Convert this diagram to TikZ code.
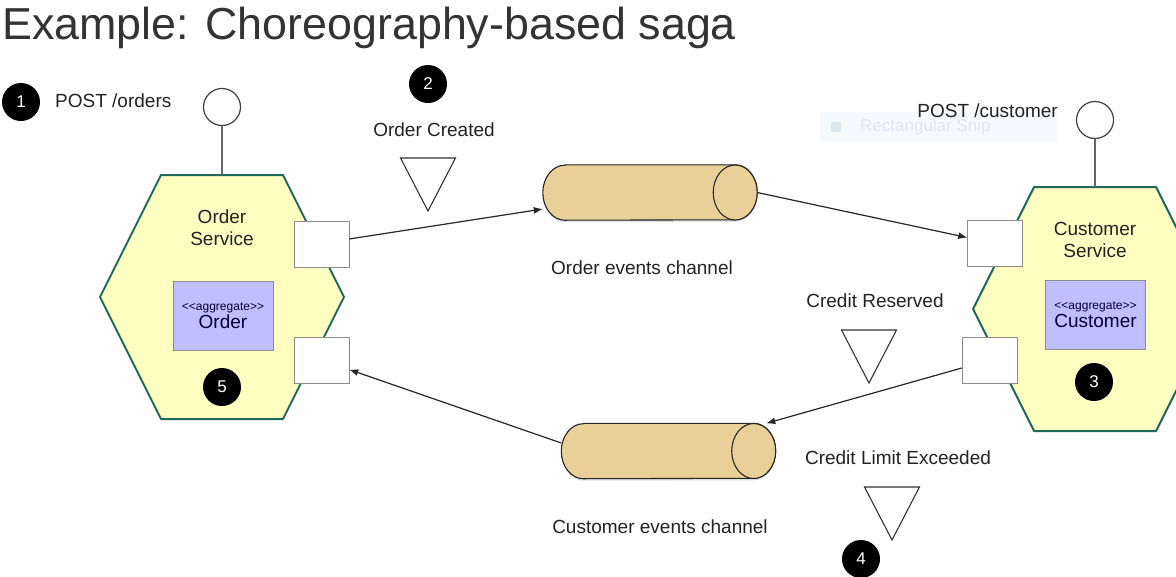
\documentclass[tikz,border=0pt]{standalone}
\usepackage{fontspec}
\setmainfont{Liberation Sans}
\usetikzlibrary{shapes.geometric, arrows.meta, shadows}

\definecolor{svcfill}{RGB}{255,255,194}
\definecolor{svcline}{RGB}{31,104,92}
\definecolor{aggfill}{RGB}{191,191,255}
\definecolor{chanfill}{RGB}{233,208,152}
\definecolor{txt}{RGB}{34,34,34}
\definecolor{snipfill}{RGB}{246,249,253}
\definecolor{sniptxt}{RGB}{222,230,240}

\tikzset{
  svc/.style={fill=svcfill, draw=svcline, line width=2pt, line join=round},
  agg/.style={draw=black!45, fill=aggfill, minimum width=100pt, minimum height=69pt, align=center, text=black!80!blue, inner sep=0pt, font=\fontsize{19}{19}\selectfont},
  port/.style={draw=black!45, fill=white, minimum width=55pt, minimum height=46pt, inner sep=0pt},
  iface/.style={circle, draw=black!75, fill=white, line width=1.2pt, minimum size=37pt, inner sep=0pt},
  stem/.style={draw=black!60, line width=1.5pt},
  chan/.style={minimum width=214pt, minimum height=55pt, inner sep=0pt},
  chanbody/.style={draw=black!85, fill=chanfill, line width=1.1pt, drop shadow={opacity=0.25, shadow xshift=0pt, shadow yshift=-2pt}},
  chanend/.style={draw=black!85, fill=chanfill, line width=1.1pt},
  badge/.style={circle, fill=black, text=white, minimum size=38pt, inner sep=0pt, font=\fontsize{17}{17}\selectfont},
  lbl/.style={text=txt, inner sep=0pt, font=\fontsize{19}{22}\selectfont},
  evt/.style={draw=black!80, line width=1.1pt},
  flow/.style={->, draw=black!85, line width=1.2pt},
}

\begin{document}
\begin{tikzpicture}[x=1pt, y=-1pt, >={Latex[length=9pt,width=7pt]}]
\useasboundingbox (0,0) rectangle (1176,576);

% title
\node[anchor=base west, text=black!80, inner sep=0pt, font=\fontsize{44.8}{44.8}\selectfont] (title) at (2,39) {Example: Choreography-based saga};

% screen snip leftover
\node[fill=snipfill, minimum width=237pt, minimum height=30pt, inner sep=0pt] (snip) at (938.5,127) {};
\node[fill=sniptxt, minimum size=10pt, inner sep=0pt] (snipicon) at (836,127) {};
\node[anchor=west, text=sniptxt, inner sep=0pt, font=\fontsize{17}{17}\selectfont] (sniptext) at (860,127) {Rectangular Snip};

% services
\draw[svc] (100,297) -- (161,175) -- (283,175) -- (344,297) -- (283,419) -- (161,419) -- cycle;
\coordinate (otop) at (222,175);
\draw[svc] (973,309) -- (1034,187) -- (1156,187) -- (1217,309) -- (1156,431) -- (1034,431) -- cycle;
\coordinate (ctop) at (1095,187);

\node[lbl, align=center] (osvc) at (222,228) {Order\\Service};
\node[lbl, align=center] (csvc) at (1095,240) {Customer\\Service};

\node[agg] (oagg) at (223,315.5) {\raisebox{-2pt}{\fontsize{12}{12}\selectfont <\kern0pt<aggregate>\kern0pt>}\\[1pt]Order};
\node[agg] (cagg) at (1095.5,314.5) {\raisebox{-2pt}{\fontsize{12}{12}\selectfont <\kern0pt<aggregate>\kern0pt>}\\[1pt]Customer};

% ports
\node[port] (op1) at (321.5,244) {};
\node[port] (op2) at (321.5,360) {};
\node[port] (cp1) at (995,243.5) {};
\node[port] (cp2) at (989.5,360) {};

% interfaces
\node[iface] (oif) at (222,107) {};
\node[iface] (cif) at (1095,120) {};
\draw[stem] (oif) -- (otop);
\draw[stem] (cif) -- (ctop);
\node[lbl, anchor=west] (opost) at (55,101) {POST /orders};
\node[lbl, anchor=east] (cpost) at (1058,111) {POST /customer};

% channels
\node[chan] (oc) at (650,192.5) {};
\node[chan] (cc) at (668.5,451) {};
\foreach \c in {oc, cc} {
  \draw[chanbody] ([xshift=22pt]\c.north west) -- ([xshift=-22pt]\c.north east)
    arc[start angle=90, end angle=-90, x radius=22pt, y radius=27.5pt]
    -- ([xshift=22pt]\c.south west)
    arc[start angle=270, end angle=90, x radius=22pt, y radius=27.5pt] -- cycle;
  \draw[chanend] ([xshift=-22pt]\c.east) ellipse[x radius=22pt, y radius=27.5pt];
}
\node[lbl] (oclbl) at (642,268) {Order events channel};
\node[lbl] (cclbl) at (660,527) {Customer events channel};

% events
\node[lbl] (ocreated) at (434,130) {Order Created};
\node[lbl] (creserved) at (875,301) {Credit Reserved};
\node[lbl] (cexceeded) at (898,458) {Credit Limit Exceeded};
\foreach \x/\y in {428/158, 869/330, 892/487}
  \draw[evt] (\x-27.5,\y) -- (\x+27.5,\y) -- (\x,\y+53) -- cycle;

% messages
\draw[flow] ([yshift=5pt]op1.east) -- (oc);
\draw[flow] (oc.east) -- (cp1);
\draw[flow] ([yshift=-8pt]cp2.west) -- (cc);
\draw[flow] ([yshift=8pt]cc.west) -- (op2);

% steps
\node[badge] (b1) at (21,102) {1};
\node[badge] (b2) at (428,84) {2};
\node[badge] (b3) at (1094,382) {3};
\node[badge] (b4) at (861,559) {4};
\node[badge] (b5) at (222,387) {5};
\end{tikzpicture}
\end{document}
